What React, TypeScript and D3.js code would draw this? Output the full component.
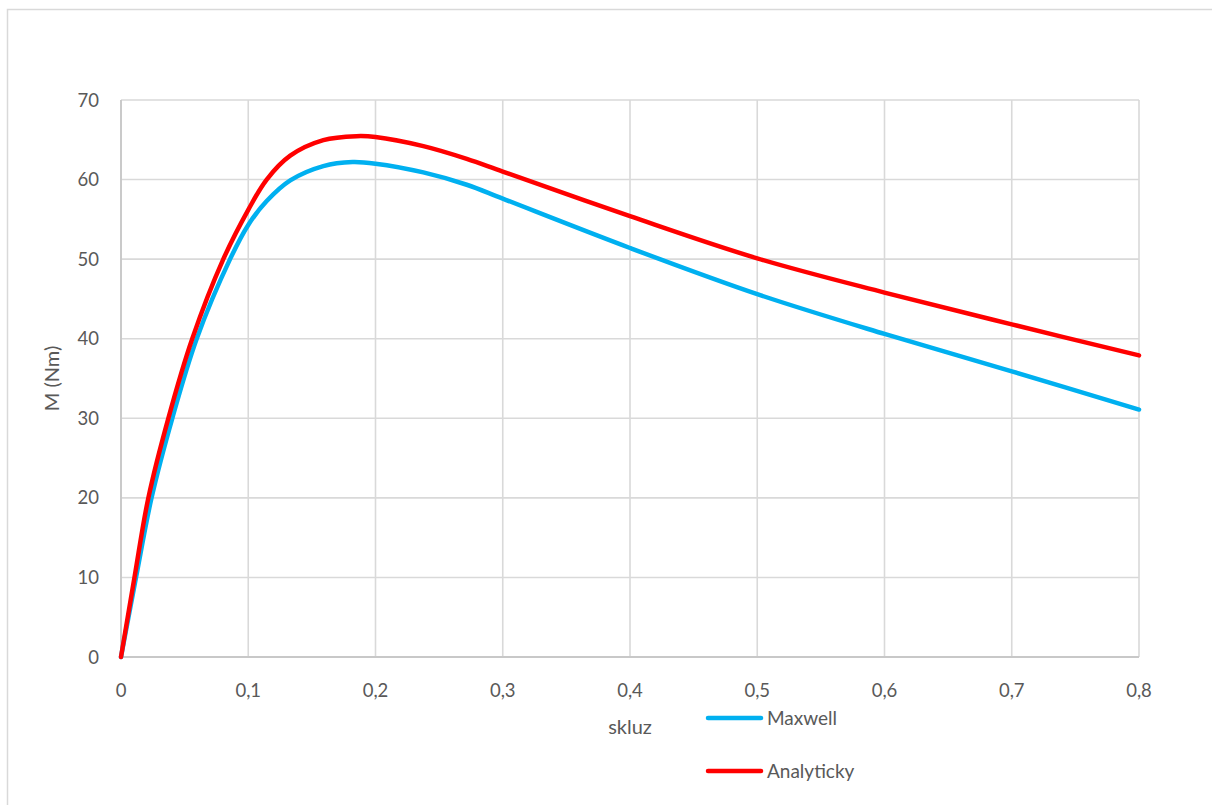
import React from "react";
import * as d3 from "d3";

const maxwellS = [0, 0.0118, 0.024, 0.0403, 0.0595, 0.0857, 0.1, 0.1145, 0.133, 0.159, 0.182, 0.2, 0.2376, 0.2717, 0.3, 0.4, 0.5, 0.6, 0.7, 0.8];
const maxwellM = [0, 10, 20, 30, 40, 50, 54.3, 57.3, 59.9, 61.7, 62.2, 62.0, 60.9, 59.35, 57.6, 51.4, 45.6, 40.6, 35.9, 31.1];

const analytS = [0, 0.0106, 0.0215, 0.0372, 0.056, 0.0804, 0.1, 0.1145, 0.133, 0.159, 0.185, 0.2, 0.2376, 0.2717, 0.3, 0.4, 0.5, 0.6, 0.7, 0.8];
const analytM = [0, 10, 20, 30, 40, 50, 56.2, 60.0, 63.0, 64.95, 65.45, 65.35, 64.2, 62.6, 61.0, 55.4, 50.1, 45.8, 41.8, 37.9];

const xTicks = [0, 0.1, 0.2, 0.3, 0.4, 0.5, 0.6, 0.7, 0.8];
const yTicks = [0, 10, 20, 30, 40, 50, 60, 70];
const seriesNames = ["Maxwell", "Analyticky"];

export default function App() {
  const W = 1212, H = 805;
  const left = 121, right = 1139, top = 100, bottom = 657;
  const x = d3.scaleLinear().domain([0, 0.8]).range([left, right]);
  const y = d3.scaleLinear().domain([0, 70]).range([bottom, top]);
  const line = d3
    .line<[number, number]>()
    .x((d) => x(d[0]))
    .y((d) => y(d[1]))
    .curve(d3.curveCatmullRom.alpha(0.5));
  const blue = line(maxwellS.map((s, i) => [s, maxwellM[i]]) as [number, number][]) || "";
  const red = line(analytS.map((s, i) => [s, analytM[i]]) as [number, number][]) || "";
  const font = "Lato, 'Open Sans', sans-serif";
  const txt = "#595959";
  const fmt = (v: number) => String(v).replace(".", ",");
  return (
    <svg width={W} height={H} style={{ position: "absolute", left: 0, top: 0 }} fontFamily={font}>
      <rect x={0} y={0} width={W} height={H} fill="#fff" />
      <rect x={7.5} y={9.5} width={W + 20} height={H + 20} fill="none" stroke="#d9d9d9" strokeWidth={1.5} />
      {xTicks.map((t) => (
        <line key={"gx" + t} x1={x(t)} x2={x(t)} y1={top} y2={bottom} stroke="#d9d9d9" strokeWidth={1.6} />
      ))}
      {yTicks.map((t) => (
        <line key={"gy" + t} x1={left} x2={right} y1={y(t)} y2={y(t)} stroke="#d9d9d9" strokeWidth={1.6} />
      ))}
      <line x1={left} x2={left} y1={top} y2={bottom} stroke="#c8c8c8" strokeWidth={1.8} />
      <line x1={left} x2={right} y1={bottom} y2={bottom} stroke="#c8c8c8" strokeWidth={1.8} />
      {yTicks.map((t) => (
        <text key={"ty" + t} x={99} y={y(t) + 6.5} textAnchor="end" fontSize={18.5} fill={txt}>
          {t}
        </text>
      ))}
      {xTicks.map((t) => (
        <text key={"tx" + t} x={x(t)} y={697} textAnchor="middle" fontSize={18.5} fill={txt}>
          {fmt(t)}
        </text>
      ))}
      <text x={630} y={734} textAnchor="middle" fontSize={20} fill={txt}>
        skluz
      </text>
      <text transform={`translate(59,${(top + bottom) / 2}) rotate(-90)`} textAnchor="middle" fontSize={20} fill={txt}>
        M (Nm)
      </text>
      <path d={blue} fill="none" stroke="#00B0F0" strokeWidth={4.5} strokeLinecap="round" strokeLinejoin="round" />
      <path d={red} fill="none" stroke="#FF0000" strokeWidth={4.5} strokeLinecap="round" strokeLinejoin="round" />
      {seriesNames.map((n, i) => {
        const ly = 718 + i * 53;
        return (
          <g key={n}>
            <line x1={708} x2={761} y1={ly} y2={ly} stroke={i === 0 ? "#00B0F0" : "#FF0000"} strokeWidth={4.5} strokeLinecap="round" />
            <text x={767} y={ly + 7} fontSize={19} fill={txt}>
              {n}
            </text>
          </g>
        );
      })}
    </svg>
  );
}
